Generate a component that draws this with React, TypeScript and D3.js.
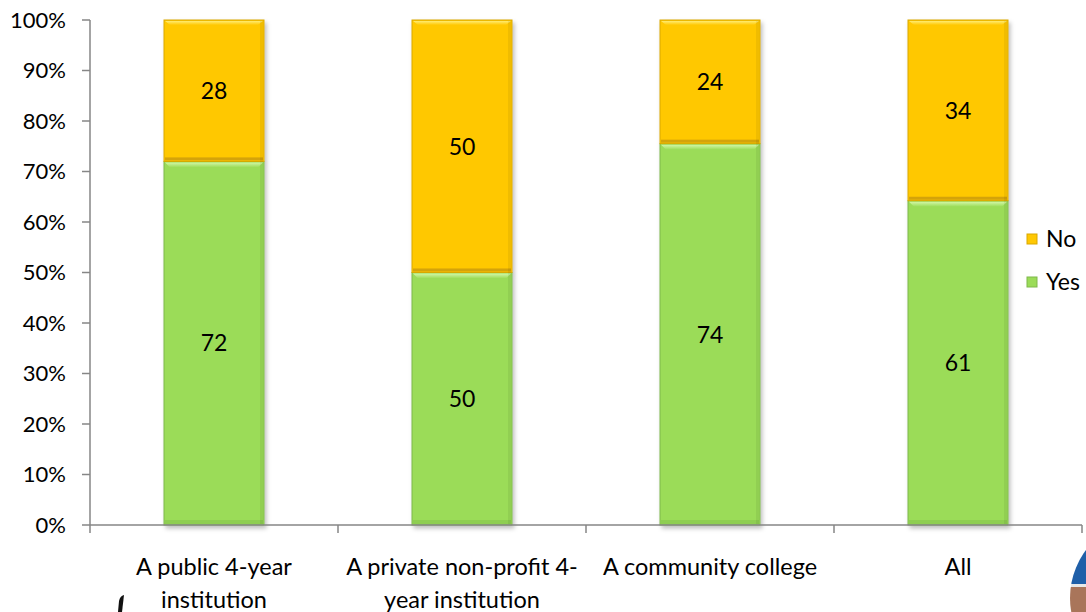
import React from "react";
import * as d3 from "d3";

const categories = ["A public 4-year institution", "A private non-profit 4-year institution", "A community college", "All"];
const categoryLines = [["A public 4-year", "institution"], ["A private non-profit 4-", "year institution"], ["A community college"], ["All"]];
const yesValues = [72, 50, 74, 61];
const noValues = [28, 50, 24, 34];
const yTicks = [0, 10, 20, 30, 40, 50, 60, 70, 80, 90, 100];
const seriesNames = ["No", "Yes"];

const W = 1086, H = 612;
const FONT = "Lato, 'Open Sans', sans-serif";
const GREEN = "#9bdc58";
const YELLOW = "#ffc803";
const AXIS = "#868686";

export default function App() {
  const x = d3.scaleBand<string>().domain(categories).range([90, 1082]).paddingInner(0).paddingOuter(0);
  const y = d3.scaleLinear().domain([0, 100]).range([525, 20]);
  const barW = 100;

  const rows = categories.map((c, i) => {
    const total = yesValues[i] + noValues[i];
    const yesPct = (yesValues[i] / total) * 100;
    return { c, i, yesPct, total };
  });

  return (
    <svg width={W} height={H} style={{ position: "absolute", left: 0, top: 0, background: "#fff" }}>
      <defs>
        <filter id="sh" x="-10%" y="-10%" width="130%" height="130%">
          <feDropShadow dx="2" dy="3" stdDeviation="2" floodColor="#000" floodOpacity="0.25" />
        </filter>
        <linearGradient id="gTopG" x1="0" y1="0" x2="0" y2="1">
          <stop offset="0" stopColor="#d2f7a8" />
          <stop offset="1" stopColor={GREEN} />
        </linearGradient>
        <linearGradient id="gTopY" x1="0" y1="0" x2="0" y2="1">
          <stop offset="0" stopColor="#ffec70" />
          <stop offset="1" stopColor={YELLOW} />
        </linearGradient>
      </defs>
      {/* logo fragments */}
      <clipPath id="logoClip"><circle cx={1150} cy={598} r={80} /></clipPath>
      <g clipPath="url(#logoClip)">
        <rect x={1060} y={500} width={120} height={84} fill="#1f5fa8" />
        <rect x={1060} y={584} width={120} height={3} fill="#e8e8e8" />
        <rect x={1060} y={587} width={120} height={40} fill="#a9755a" />
      </g>
      <path d="M118,612 L119,601 Q120,596 124,595 L122,612 Z" fill="#111" />

      {/* y axis */}
      <line x1={90} x2={90} y1={y(100)} y2={y(0)} stroke={AXIS} strokeWidth={1.5} />
      {yTicks.map((t) => (
        <g key={t}>
          <line x1={82} x2={90} y1={y(t)} y2={y(t)} stroke={AXIS} strokeWidth={1.5} />
          <text x={66} y={y(t)} dy="0.36em" textAnchor="end" fontFamily={FONT} fontSize={22} fill="#000">{t}%</text>
        </g>
      ))}

      {/* bars */}
      {rows.map((r) => {
        const cx = (x(r.c) as number) + x.bandwidth() / 2;
        const x0 = cx - barW / 2;
        const yTop = y(r.yesPct);
        const yBase = y(0);
        const y100 = y(100);
        return (
          <g key={r.c}>
            <g filter="url(#sh)">
              <rect x={x0} y={yTop} width={barW} height={yBase - yTop} fill={GREEN} stroke="#7fb84a" strokeWidth={1} />
              <rect x={x0} y={y100} width={barW} height={yTop - y100} fill={YELLOW} stroke="#d9a800" strokeWidth={1} />
            </g>
            {/* bevels */}
            <polygon points={`${x0 + 1},${yTop + 1} ${x0 + barW - 1},${yTop + 1} ${x0 + barW - 6},${yTop + 6} ${x0 + 6},${yTop + 6}`} fill="url(#gTopG)" />
            <polygon points={`${x0 + 1},${y100 + 1} ${x0 + barW - 1},${y100 + 1} ${x0 + barW - 6},${y100 + 5} ${x0 + 6},${y100 + 5}`} fill="url(#gTopY)" />
            <rect x={x0 + 1} y={yTop - 4} width={barW - 2} height={3} fill="#b88a10" opacity={0.6} />
            <rect x={x0 + 1} y={yBase - 5} width={barW - 2} height={4} fill="#86c44c" opacity={0.6} />
            <rect x={x0 + barW - 4} y={y100 + 1} width={3} height={yBase - y100 - 2} fill="#000" opacity={0.06} />
            <text x={cx} y={y(r.yesPct / 2)} dy="0.36em" textAnchor="middle" fontFamily={FONT} fontSize={23} fill="#000">{yesValues[r.i]}</text>
            <text x={cx} y={y((r.yesPct + 100) / 2)} dy="0.36em" textAnchor="middle" fontFamily={FONT} fontSize={23} fill="#000">{noValues[r.i]}</text>
          </g>
        );
      })}

      {/* x axis */}
      <line x1={90} x2={1082} y1={y(0)} y2={y(0)} stroke={AXIS} strokeWidth={1.5} />
      {[...categories.map((c) => x(c) as number), 1082].map((t, i) => (
        <line key={i} x1={t} x2={t} y1={y(0)} y2={y(0) + 8} stroke={AXIS} strokeWidth={1.5} />
      ))}
      {categories.map((c, i) => {
        const cx = (x(c) as number) + x.bandwidth() / 2;
        return (
          <text key={c} x={cx} textAnchor="middle" fontFamily={FONT} fontSize={23.5} fill="#000">
            {categoryLines[i].map((ln, j) => (
              <tspan key={j} x={cx} y={575 + j * 33}>{ln}</tspan>
            ))}
          </text>
        );
      })}

      {/* legend */}
      {seriesNames.map((s, i) => {
        const ly = 239 + i * 43;
        const col = s === "No" ? YELLOW : GREEN;
        return (
          <g key={s}>
            <rect x={1027} y={ly - 5} width={10} height={10} fill={col} stroke={s === "No" ? "#d9a800" : "#7fb84a"} strokeWidth={1} />
            <text x={1046} y={ly} dy="0.36em" fontFamily={FONT} fontSize={23} fill="#000">{s}</text>
          </g>
        );
      })}
    </svg>
  );
}
